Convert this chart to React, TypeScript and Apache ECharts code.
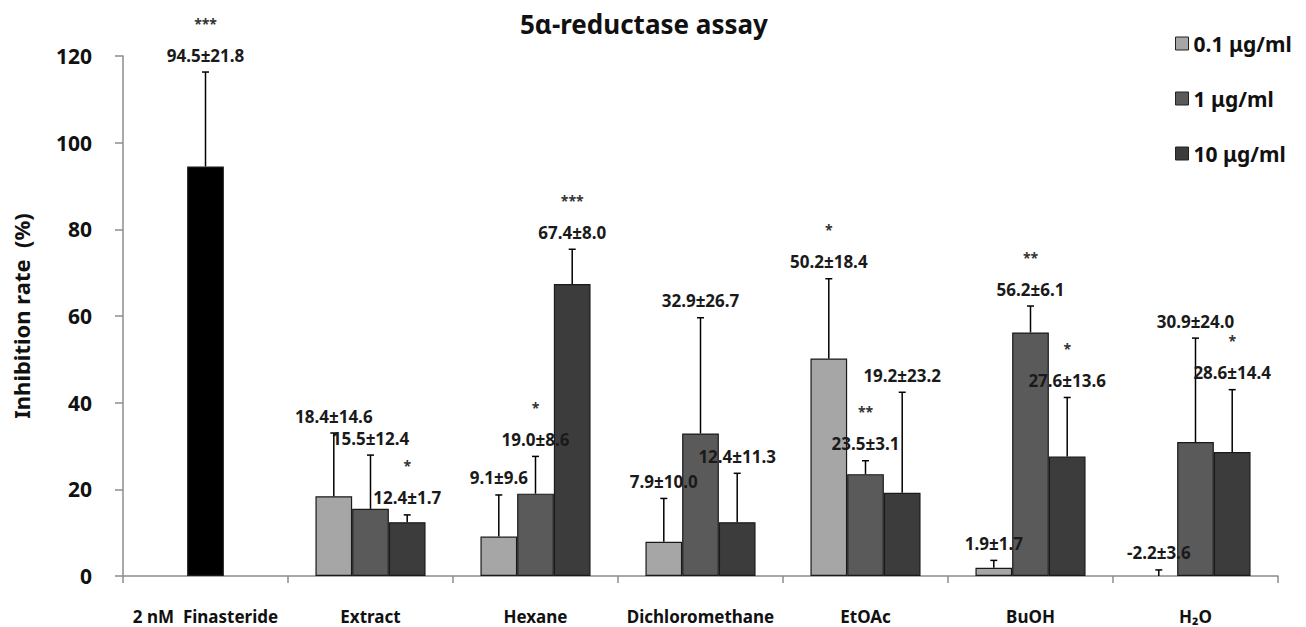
import React, { useEffect, useRef } from "react";
import * as echarts from "echarts";

const categories = ["2 nM  Finasteride", "Extract", "Hexane", "Dichloromethane", "EtOAc", "BuOH", "H₂O"];
const seriesNames = ["0.1 μg/ml", "1 μg/ml", "10 μg/ml"];

const finasterideMean = [94.5, null, null, null, null, null, null];
const finasterideErr = [21.8, null, null, null, null, null, null];
const finasterideSig = ["***", "", "", "", "", "", ""];

const mean01 = [null, 18.4, 9.1, 7.9, 50.2, 1.9, -2.2];
const err01 = [null, 14.6, 9.6, 10.0, 18.4, 1.7, 3.6];
const sig01 = ["", "", "", "", "*", "", ""];

const mean1 = [null, 15.5, 19.0, 32.9, 23.5, 56.2, 30.9];
const err1 = [null, 12.4, 8.6, 26.7, 3.1, 6.1, 24.0];
const sig1 = ["", "", "*", "", "**", "**", ""];

const mean10 = [null, 12.4, 67.4, 12.4, 19.2, 27.6, 28.6];
const err10 = [null, 1.7, 8.0, 11.3, 23.2, 13.6, 14.4];
const sig10 = ["", "*", "***", "", "", "*", "*"];

const yTicks = [0, 20, 40, 60, 80, 100, 120];

const COLORS = ["#a6a6a6", "#5a5a5a", "#3c3c3c"];
const FONT = "Noto Sans";
const BAR_W = 36.7;

export default function App() {
  const ref = useRef<HTMLDivElement>(null);
  useEffect(() => {
    if (!ref.current) return;
    const chart = echarts.init(ref.current, null, { renderer: "svg" });

    const errData: any[] = [];
    const addErr = (means: any[], errs: any[], sigs: string[], slot: number) => {
      means.forEach((m, i) => {
        if (m === null) return;
        errData.push({ value: [i, m, errs[i], slot], sig: sigs[i] });
      });
    };
    addErr(finasterideMean, finasterideErr, finasterideSig, 0);
    addErr(mean01, err01, sig01, -1);
    addErr(mean1, err1, sig1, 0);
    addErr(mean10, err10, sig10, 1);

    const barStyle = (c: string) => ({ color: c, borderColor: "#1a1a1a", borderWidth: 1.2 });

    const option: any = {
      animation: false,
      textStyle: { fontFamily: FONT },
      title: {
        text: "5α-reductase assay",
        left: 515,
        top: 6,
        textStyle: { fontFamily: FONT, fontSize: 26, fontWeight: "bold", color: "#111" },
      },
      legend: {
        orient: "vertical",
        left: 1170,
        top: 28,
        itemWidth: 13,
        itemHeight: 13,
        itemGap: 34,
        icon: "rect",
        data: seriesNames,
        textStyle: { fontFamily: FONT, fontSize: 21, fontWeight: "bold", color: "#111", padding: [0, 0, 0, 0] },
        itemStyle: { borderColor: "#222", borderWidth: 1 },
      },
      grid: { left: 123, right: 28, top: 56, bottom: 51, containLabel: false },
      xAxis: {
        type: "category",
        data: categories,
        axisLine: { lineStyle: { color: "#8c8c8c", width: 1.5 } },
        axisTick: { show: true, length: 7, lineStyle: { color: "#8c8c8c", width: 1.5 } },
        axisLabel: { margin: 32, fontFamily: FONT, fontSize: 17, fontWeight: "bold", color: "#111", interval: 0 },
      },
      yAxis: {
        type: "value",
        min: 0,
        max: 120,
        interval: 20,
        name: "Inhibition rate  (%)",
        nameLocation: "middle",
        nameRotate: 90,
        nameGap: 91,
        nameTextStyle: { fontFamily: FONT, fontSize: 22, fontWeight: "bold", color: "#111" },
        axisLine: { show: true, lineStyle: { color: "#8c8c8c", width: 1.5 } },
        axisTick: { show: true, length: 8, lineStyle: { color: "#8c8c8c", width: 1.5 } },
        splitLine: { show: false },
        axisLabel: {
          margin: 31,
          fontFamily: FONT,
          fontSize: 21,
          fontWeight: "bold",
          color: "#111",
          formatter: (v: number) => (yTicks.includes(v) ? String(v) : ""),
        },
      },
      series: [
        {
          name: seriesNames[0],
          type: "bar",
          data: mean01,
          barWidth: BAR_W,
          barGap: "0%",
          itemStyle: barStyle(COLORS[0]),
          clip: true,
        },
        {
          name: seriesNames[1],
          type: "bar",
          stack: "mid",
          data: mean1,
          barWidth: BAR_W,
          barGap: "0%",
          itemStyle: barStyle(COLORS[1]),
          clip: true,
        },
        {
          name: "2 nM Finasteride",
          type: "bar",
          stack: "mid",
          data: finasterideMean,
          barWidth: BAR_W,
          barGap: "0%",
          itemStyle: barStyle("#000000"),
          clip: true,
        },
        {
          name: seriesNames[2],
          type: "bar",
          data: mean10,
          barWidth: BAR_W,
          barGap: "0%",
          itemStyle: barStyle(COLORS[2]),
          clip: true,
        },
        {
          type: "custom",
          name: "err",
          data: errData,
          encode: { x: 0, y: 1 },
          z: 10,
          clip: false,
          renderItem: (params: any, api: any) => {
            const cat = api.value(0);
            const m = api.value(1);
            const e = api.value(2);
            const slot = api.value(3);
            const item = errData[params.dataIndex];
            const cx = api.coord([cat, 0])[0] + slot * BAR_W;
            const yBase = api.coord([cat, Math.max(m, 0)])[1];
            const yTop = api.coord([cat, m + e])[1];
            const label = `${m.toFixed(1)}±${e.toFixed(1)}`;
            const children: any[] = [
              { type: "line", shape: { x1: cx, y1: yBase, x2: cx, y2: yTop }, style: { stroke: "#000", lineWidth: 1.5 } },
              { type: "line", shape: { x1: cx - 3.5, y1: yTop, x2: cx + 3.5, y2: yTop }, style: { stroke: "#000", lineWidth: 1.5 } },
              {
                type: "text",
                x: cx,
                y: yTop - 17,
                style: {
                  text: label,
                  fontFamily: FONT,
                  fontSize: 17,
                  fontWeight: "bold",
                  fill: "#1a1a1a",
                  align: "center",
                  verticalAlign: "middle",
                },
              },
            ];
            if (item.sig) {
              children.push({
                type: "text",
                x: cx,
                y: yTop - 49,
                style: {
                  text: item.sig,
                  fontFamily: FONT,
                  fontSize: 14,
                  fontWeight: "bold",
                  fill: "#333",
                  align: "center",
                  verticalAlign: "middle",
                },
              });
            }
            return { type: "group", children };
          },
        },
      ],
    };
    chart.setOption(option);
    return () => chart.dispose();
  }, []);
  return (
    <div
      ref={ref}
      style={{ position: "absolute", left: 0, top: 0, width: 1306, height: 627, background: "#fff" }}
    />
  );
}
